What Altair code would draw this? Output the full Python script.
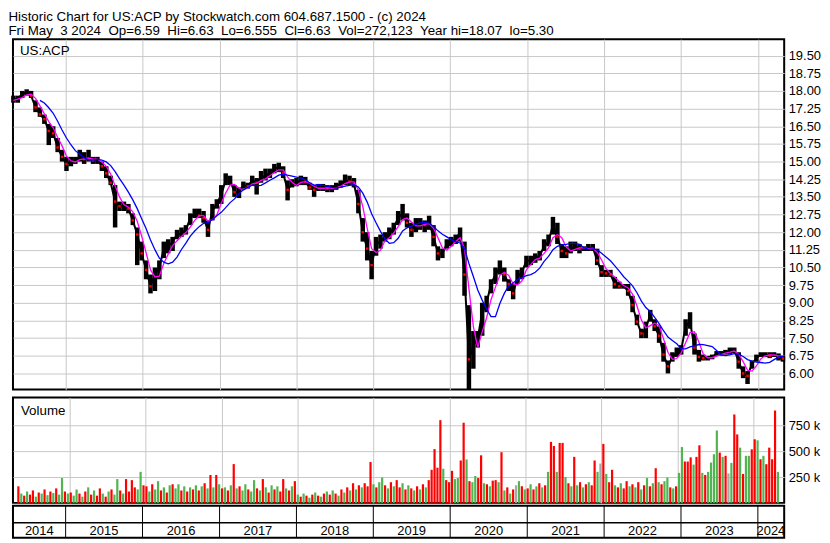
import altair as alt
import pandas as pd

# ---------------- text ----------------
NB = "\u00a0\u00a0"
TITLE_LINE1 = "Historic Chart for US:ACP by Stockwatch.com 604.687.1500 - (c) 2024"
TITLE_LINE2 = ("Fri May" + NB + "3 2024" + NB + "Op=6.59" + NB + "Hi=6.63" + NB + "Lo=6.555" + NB +
               "Cl=6.63" + NB + "Vol=272,123" + NB + "Year hi=18.07" + NB + "lo=5.30")
SYMBOL = ["US:ACP"]
VOL_LABEL = ["Volume"]

# ---------------- price samples (every 3 weeks from 2014-04-28) ----------------
price_hi = [
    17.8, 17.8, 18.0, 18.07, 18.0, 17.6, 17.3, 17.0, 16.6, 16.5,
    16.0, 15.5, 15.2, 15.2, 15.2, 15.5, 15.4, 15.5, 15.2, 15.2,
    15.0, 14.8, 14.4, 14.0, 13.3, 13.3, 13.2, 12.8, 12.2, 11.6,
    10.8, 10.2, 10.5, 10.8, 11.6, 11.7, 11.8, 12.1, 12.2, 12.3,
    12.8, 13.0, 13.0, 12.9, 12.5, 13.2, 13.4, 14.0, 14.5, 14.4,
    14.0, 13.9, 14.15, 14.1, 14.4, 14.3, 14.6, 14.7, 14.7, 14.9,
    14.95, 14.8, 14.2, 14.25, 14.3, 14.4, 14.35, 14.1, 14.0, 14.05,
    14.05, 14.0, 14.0, 14.1, 14.2, 14.45, 14.4, 14.3, 13.8, 12.6,
    12.0, 11.2, 11.8, 11.9, 12.0, 12.2, 12.4, 12.9, 13.2, 12.8,
    12.4, 12.6, 12.6, 12.5, 12.7, 12.3, 11.4, 11.3, 11.7, 11.8,
    11.9, 12.2, 11.6, 8.9, 7.8, 7.8, 9.0, 9.3, 10.0, 10.5,
    10.8, 10.5, 10.0, 9.8, 10.4, 10.5, 11.0, 11.0, 11.1, 11.2,
    11.7, 11.9, 12.65, 12.4, 11.5, 11.4, 11.6, 11.6, 11.5, 11.4,
    11.5, 11.5, 11.3, 10.6, 10.4, 10.4, 10.1, 9.9, 9.8, 9.8,
    9.3, 8.5, 7.9, 8.2, 8.7, 8.3, 8.0, 7.3, 6.55, 6.9,
    7.1, 7.2, 8.3, 8.6, 7.7, 7.0, 6.8, 6.75, 6.8, 6.95,
    6.95, 7.0, 7.1, 7.1, 6.9, 6.3, 6.1, 6.55, 6.8, 6.9,
    6.9, 6.9, 6.9, 6.85, 6.75,
]
price_lo = [
    17.5, 17.5, 17.7, 17.8, 17.7, 17.1, 16.9, 16.6, 15.7, 16.0,
    15.4, 15.0, 14.6, 14.8, 14.9, 15.0, 14.9, 15.0, 14.9, 14.9,
    14.6, 14.3, 14.0, 12.2, 12.9, 12.9, 12.8, 12.3, 10.6, 10.8,
    10.0, 9.4, 9.5, 10.0, 10.9, 11.1, 11.2, 11.7, 11.8, 11.9,
    12.3, 12.6, 12.6, 12.4, 11.8, 12.5, 13.0, 13.2, 14.0, 14.0,
    13.5, 13.45, 13.85, 13.85, 14.0, 13.6, 14.1, 14.2, 14.3, 14.5,
    14.55, 14.3, 13.35, 13.9, 13.95, 14.0, 14.0, 13.8, 13.5, 13.75,
    13.75, 13.7, 13.7, 13.8, 13.9, 14.0, 14.0, 13.9, 12.8, 11.6,
    10.8, 10.0, 11.0, 11.3, 11.6, 11.7, 11.9, 12.3, 12.5, 12.2,
    11.8, 12.0, 12.1, 12.0, 12.1, 11.4, 10.8, 10.9, 11.3, 11.4,
    11.5, 11.6, 9.3, 5.3, 6.2, 7.1, 7.6, 8.6, 9.4, 9.8,
    10.2, 9.9, 9.5, 9.15, 9.8, 10.0, 10.5, 10.6, 10.7, 10.8,
    11.2, 11.4, 11.9, 11.5, 10.9, 10.9, 11.1, 11.2, 11.1, 11.2,
    11.2, 11.2, 10.6, 10.1, 10.1, 10.1, 9.6, 9.6, 9.6, 9.3,
    8.6, 8.05, 7.5, 7.5, 8.2, 7.8, 7.3, 6.5, 6.0, 6.5,
    6.7, 6.8, 7.6, 7.9, 6.8, 6.5, 6.55, 6.55, 6.6, 6.75,
    6.75, 6.8, 6.8, 6.85, 6.2, 5.8, 5.55, 6.2, 6.5, 6.7,
    6.7, 6.65, 6.7, 6.55, 6.5,
]
price_close = [
    17.6, 17.7, 17.85, 17.95, 17.8, 17.3, 17.0, 16.8, 16.3, 16.2,
    15.6, 15.2, 14.9, 15.0, 15.05, 15.2, 15.1, 15.15, 15.05, 15.1,
    14.8, 14.5, 14.1, 13.3, 13.1, 13.1, 13.0, 12.5, 11.9, 11.1,
    10.4, 9.7, 10.2, 10.5, 11.3, 11.4, 11.6, 11.9, 11.95, 12.1,
    12.6, 12.8, 12.7, 12.6, 12.1, 12.9, 13.2, 13.6, 14.2, 14.2,
    13.7, 13.7, 14.0, 13.95, 14.2, 14.1, 14.3, 14.4, 14.5, 14.7,
    14.75, 14.5, 13.8, 14.05, 14.1, 14.2, 14.15, 13.9, 13.8, 13.9,
    13.9, 13.85, 13.85, 13.95, 14.05, 14.2, 14.15, 14.05, 13.2, 12.0,
    11.3, 10.6, 11.5, 11.6, 11.8, 11.9, 12.2, 12.6, 12.8, 12.4,
    12.1, 12.3, 12.4, 12.3, 12.4, 11.8, 11.1, 11.1, 11.5, 11.6,
    11.7, 12.0, 10.2, 6.6, 7.2, 7.5, 8.6, 9.0, 9.8, 10.2,
    10.5, 10.2, 9.8, 9.4, 10.1, 10.3, 10.8, 10.8, 10.9, 11.0,
    11.4, 11.6, 12.3, 11.8, 11.2, 11.1, 11.3, 11.4, 11.3, 11.3,
    11.3, 11.35, 10.8, 10.3, 10.25, 10.2, 9.8, 9.7, 9.7, 9.5,
    8.9, 8.2, 7.7, 7.9, 8.5, 8.0, 7.6, 6.8, 6.3, 6.7,
    6.9, 7.0, 8.0, 8.2, 7.1, 6.7, 6.65, 6.65, 6.7, 6.85,
    6.85, 6.9, 6.95, 7.0, 6.5, 6.0, 5.9, 6.4, 6.65, 6.8,
    6.8, 6.75, 6.8, 6.7, 6.63,
]

# ---------------- volume samples (every 2 weeks from 2014-04-28), thousands ----------------
vol_k = [
    160, 90, 70, 110, 80, 120, 60, 100, 90, 130, 75, 110, 95, 140, 80, 240, 110, 90,
    100, 70, 130, 90, 60, 110, 150, 80, 120, 70, 140, 90, 60, 110, 130, 80, 230, 120, 90, 230, 110, 220, 150, 130, 300, 170,
    160, 110, 180, 130, 210, 120, 150, 100, 170, 180, 140, 180, 120, 160, 110, 150, 130, 170, 120, 160, 190, 140, 270, 150, 270, 180, 140,
    150, 120, 170, 375, 140, 160, 120, 180, 130, 110, 220, 140, 120, 230, 150, 100, 170, 130, 160, 110, 230, 140, 120, 160, 210,
    80, 60, 90, 70, 50, 80, 100, 70, 60, 90, 110, 80, 120, 90, 70, 130, 100, 150, 120, 190, 130, 170, 150, 190, 160, 395,
    180, 150, 200, 245, 170, 140, 200, 160, 220, 150, 190, 130, 170, 140, 120, 160, 130, 180, 150, 220, 320, 520, 340, 800, 330, 220,
    200, 310, 230, 240, 410, 775, 420, 210, 200, 260, 240, 460, 190, 180, 160, 215, 220, 200, 490, 120, 150, 90, 130, 170, 210, 160, 130,
    140, 180, 130, 160, 190, 150, 170, 300, 590, 550, 300, 580, 580, 250, 190, 160, 445, 170, 200, 150, 180, 200, 170, 410, 300, 380,
    570, 280, 200, 320, 170, 150, 190, 140, 210, 160, 180, 150, 200, 130, 170, 240, 160, 190, 335, 200, 180, 210, 245, 150, 140, 160,
    290, 540, 400, 400, 440, 370, 445, 557, 290, 270, 300, 390, 470, 700, 486, 445, 455, 285, 387, 855, 662, 534, 280, 455, 455, 518,
    615, 605, 422, 455, 374, 534, 422, 893, 300,
]
vol_dir = list(
    "rgrgrrgrgrgrgrggrg"
    "rggrgrgrgrrgrgrggrgrrrrggr"
    "rgrggrgrgrggrgrgrgrgrgrgrgr"
    "grgrgrggrggrgrgrgrgrrgrgr"
    "grgrgrgrgrgrgrgrgrgrgrgrrr"
    "grggrgrgrrgrgrgrgrgrrrrrgr"
    "rrggrrgrggrrgrgrrgrgrgrngrg"
    "rgrgrgrgrrgrrgrgrgrgrgrrgn"
    "rgrrgrgrrgrgrgrgrgrgrggrgr"
    "ggrrrgrrgrggggrgrngrrgrggr"
    "rgrgrrrrg"
)
dir_names = {"r": "down", "g": "up", "n": "flat"}

years = list(range(2014, 2025))
price_ticks = [6.00, 6.75, 7.50, 8.25, 9.00, 9.75, 10.50, 11.25, 12.00, 12.75,
               13.50, 14.25, 15.00, 15.75, 16.50, 17.25, 18.00, 18.75, 19.50]
vol_ticks = [250000, 500000, 750000]

# ---------------- tables ----------------
df_p = pd.DataFrame({
    "date": pd.date_range("2014-04-28", periods=len(price_close), freq="21D").strftime("%Y-%m-%d"),
    "hi": price_hi, "lo": price_lo, "close": price_close,
})
df_red = df_p[df_p["close"] < df_p["close"].shift(1)]

df_v = pd.DataFrame({
    "date": pd.date_range("2014-04-28", periods=len(vol_k), freq="14D").strftime("%Y-%m-%d"),
    "vol": [v * 1000 for v in vol_k],
    "dir": [dir_names[d] for d in vol_dir],
})

x_start, x_end = pd.Timestamp("2014-04-26"), pd.Timestamp("2024-05-05")
edges = [x_start] + [pd.Timestamp(f"{y}-01-01") for y in years[1:]] + [x_end]
df_years = pd.DataFrame({
    "label": [str(y) for y in years],
    "mid": [(edges[i] + (edges[i + 1] - edges[i]) / 2).strftime("%Y-%m-%d") for i in range(len(years))],
})
df_bounds = pd.DataFrame({"date": [f"{y}-01-01" for y in years[1:]]})

# ---------------- layout ----------------
W, HP, HV, HS = 775, 352, 106, 32
FONT = "Liberation Sans"

xsc = alt.Scale(type="utc", domain=[alt.DateTime(year=2014, month=4, date=26, utc=True),
                                    alt.DateTime(year=2024, month=5, date=5, utc=True)])
xgrid = alt.Axis(values=[alt.DateTime(year=y, month=1, date=1, utc=True) for y in years[1:]],
                 labels=False, ticks=False, domain=False, grid=True, title=None)
X = alt.X("date:T", scale=xsc, axis=xgrid)

ysc = alt.Scale(domain=[5.32, 20.2], nice=False, zero=False)
yax = alt.Axis(orient="right", values=price_ticks, format=".2f", ticks=False, domain=False,
               grid=True, labelPadding=4, labelOverlap=False, title=None)

band = alt.Chart(df_p).mark_rule(color="black", strokeWidth=4.5).encode(
    x=X, y=alt.Y("lo:Q", scale=ysc, axis=yax), y2="hi:Q")
closeline = alt.Chart(df_p).mark_line(color="black", strokeWidth=2).encode(
    x=X, y=alt.Y("close:Q", scale=ysc, axis=yax))
reds = alt.Chart(df_red).mark_square(color="#ff0000", size=6, opacity=1).encode(
    x=X, y=alt.Y("close:Q", scale=ysc, axis=yax))
fast = alt.Chart(df_p).transform_window(
    ma="mean(close)", frame=[-2, 0], sort=[alt.SortField("date")]
).mark_line(color="#ff00ff", strokeWidth=1.3).encode(x=X, y=alt.Y("ma:Q", scale=ysc, axis=yax))
slow = alt.Chart(df_p).transform_window(
    ma="mean(close)", n="count()", frame=[-6, 0], sort=[alt.SortField("date")]
).transform_filter("datum.n >= 7").mark_line(color="#0000ff", strokeWidth=1.3).encode(
    x=X, y=alt.Y("ma:Q", scale=ysc, axis=yax))
sym = alt.Chart(pd.DataFrame({"t": SYMBOL})).mark_text(
    align="left", baseline="top", font=FONT, fontSize=13.4, color="black"
).encode(text="t:N", x=alt.value(7), y=alt.value(5))

price = alt.layer(band, closeline, reds, fast, slow, sym).properties(width=W, height=HP)

vsc = alt.Scale(domain=[0, 1020000], nice=False)
vax = alt.Axis(orient="right", values=vol_ticks, labelExpr="datum.value / 1000 + ' k'",
               ticks=False, domain=False, grid=True, labelPadding=4, title=None)
vbars = alt.Chart(df_v).mark_bar(size=2.2).encode(
    x=X, y=alt.Y("vol:Q", scale=vsc, axis=vax),
    color=alt.Color("dir:N", scale=alt.Scale(domain=["down", "up", "flat"],
                                             range=["#ff0000", "#50b450", "#a8a8a8"]), legend=None))
vlab = alt.Chart(pd.DataFrame({"t": VOL_LABEL})).mark_text(
    align="left", baseline="top", font=FONT, fontSize=13.4, color="black"
).encode(text="t:N", x=alt.value(8), y=alt.value(7))
volume = alt.layer(vbars, vlab).properties(width=W, height=HV)

Xs = alt.X("date:T", scale=xsc, axis=None)
s_rules = alt.Chart(df_bounds).mark_rule(color="black", strokeWidth=1).encode(x=Xs)
s_div = alt.Chart(pd.DataFrame({"d": [0]})).mark_rule(color="black", strokeWidth=1.5).encode(
    x=alt.value(0), x2=alt.value(W), y=alt.value(17))
s_text = alt.Chart(df_years).mark_text(font=FONT, fontSize=13, color="black", baseline="middle",
                                       align="center").encode(
    x=alt.X("mid:T", scale=xsc, axis=None), y=alt.value(25), text="label:N")
strip = alt.layer(s_rules, s_div, s_text).properties(width=W, height=HS)

title = alt.TitleParams(text=[TITLE_LINE1, TITLE_LINE2], anchor="start", font=FONT, fontSize=13.4,
                        fontWeight="normal", color="black", lineHeight=14, offset=1)

chart = alt.vconcat(price, alt.vconcat(volume, strip, spacing=0), spacing=3).properties(
    title=title, padding=0, background="white"
).configure_view(stroke="black", strokeWidth=2).configure_axis(
    labelFont=FONT, labelFontSize=13, labelColor="black", gridColor="#c8c8c8", gridWidth=1
)

chart.save("out.html", embed_options={"renderer": "svg", "actions": False})
